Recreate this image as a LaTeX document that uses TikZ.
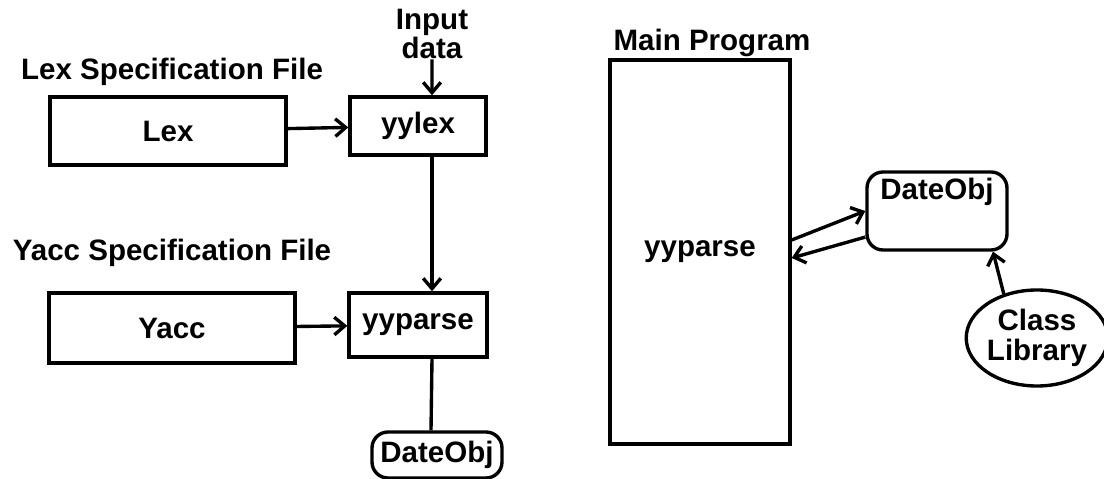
\documentclass[tikz,border=0pt]{standalone}
\usepackage{fontspec}
\setmainfont{Liberation Sans}
\usetikzlibrary{positioning,arrows.meta,shapes.geometric}

\tikzset{
  lbl/.style={font=\bfseries\fontsize{21}{24}\selectfont},
  blk/.style={draw, line width=2.4pt, lbl},
  obj/.style={blk, rounded corners=4mm},
  flow/.style={line width=2.4pt, -{Straight Barb[length=2.6mm,width=4.4mm]}}
}

\begin{document}
\begin{tikzpicture}[x=0.25mm, y=-0.25mm]
  \useasboundingbox (0,0) rectangle (1104,479);

  % left side: generators
  \node[lbl]                                        (LexT)    at (172,72)  {Lex Specification File};
  \node[blk, minimum width=59mm, minimum height=17mm]   (LexB)    at (168,131) {Lex};
  \node[blk, minimum width=34mm, minimum height=14.5mm] (YylexB)  at (418,126) {yylex};
  \node[lbl, align=center, inner sep=0pt]           (InputT)  at (432,34)  {Input\\[-3pt]data};

  \node[lbl]                                        (YaccT)   at (172,253) {Yacc Specification File};
  \node[blk, minimum width=61.5mm, minimum height=17.5mm] (YaccB) at (172,328) {Yacc};
  \node[blk, minimum width=34.5mm, minimum height=16mm] (YyparseB) at (418,325) {yyparse};
  \node[obj, minimum width=32.5mm, minimum height=11.5mm] (ObjL) at (437,455) {DateObj};

  % right side: main program
  \node[lbl]                                        (MainT)   at (712,43)  {Main Program};
  \node[blk, minimum width=45mm, minimum height=96mm]   (MainB)   at (700,252) {yyparse};
  \node[obj, minimum width=35mm, minimum height=19.5mm, text depth=11mm] (ObjR) at (937,211) {DateObj};
  \node[blk, ellipse, align=center, minimum width=34mm, minimum height=24mm, inner sep=0pt]
                                                    (LibR)    at (1037,338) {Class\\[-3pt]Library};

  \path[flow]
    (InputT.south) edge ([xshift=3.5mm]YylexB.north)
    (LexB) edge (YylexB)
    ([xshift=3.5mm]YylexB.south) edge ([xshift=3.5mm]YyparseB.north)
    (YaccB) edge (YyparseB)
    ([yshift=3mm]MainB.east) edge (ObjR.west)
    (ObjR.200) edge ([yshift=-1.5mm]MainB.east)
    (LibR.127) edge (ObjR.-36);
  \draw[line width=2.4pt] ([xshift=3.5mm]YyparseB.south) -- ([xshift=-1.5mm]ObjL.north);
\end{tikzpicture}
\end{document}
